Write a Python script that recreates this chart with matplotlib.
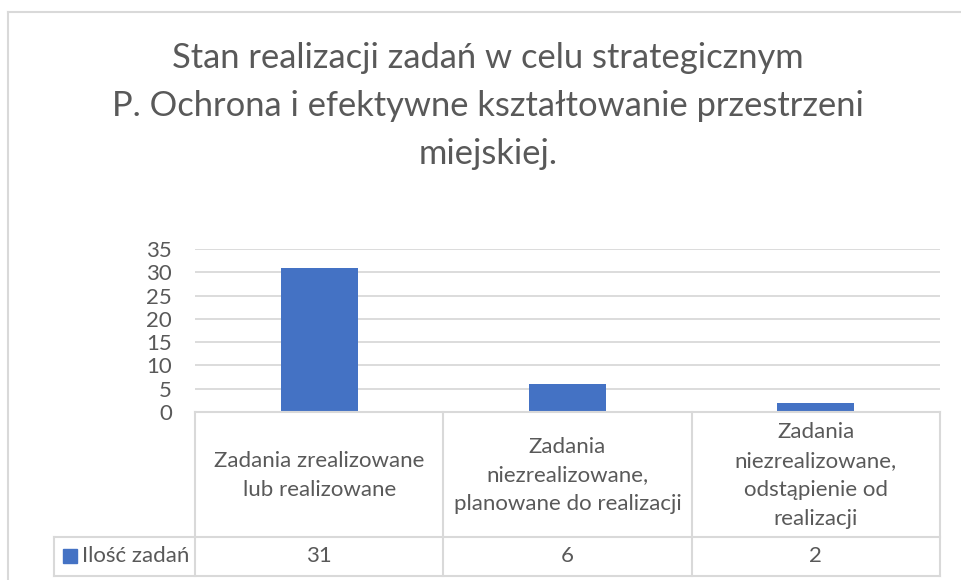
import matplotlib
matplotlib.use("Agg")
import matplotlib.pyplot as plt
from matplotlib.lines import Line2D
from matplotlib.patches import Rectangle

# data
categories = [
    "Zadania zrealizowane\nlub realizowane",
    "Zadania\nniezrealizowane,\nplanowane do realizacji",
    "Zadania\nniezrealizowane,\nodstąpienie od\nrealizacji",
]
values = [31, 6, 2]
series_name = "Ilość zadań"
yticks = [0, 5, 10, 15, 20, 25, 30, 35]
title = ("Stan realizacji zadań w celu strategicznym\n"
         "P. Ochrona i efektywne kształtowanie przestrzeni\n"
         "miejskiej.")

W, H = 962, 580
BLUE = "#4472C4"
GRID = "#D9D9D9"
TXT = "#595959"
plt.rcParams["font.family"] = ["Lato", "DejaVu Sans"]

fig = plt.figure(figsize=(W / 100, H / 100), dpi=100)


def fx(px):
    return px / W


def fy(py):
    return 1 - py / H


# chart border (only top and left visible)
fig.add_artist(Line2D([fx(8), fx(8)], [fy(12), fy(580)], color=GRID, lw=1.5))
fig.add_artist(Line2D([fx(8), fx(962)], [fy(12), fy(12)], color=GRID, lw=1.5))

fig.text(fx(488), fy(106), title, ha="center", va="center", fontsize=24.8,
         color=TXT, linespacing=1.6)

# plot area
x0, x1, ytop, ybot = 195, 940, 249, 412
ax = fig.add_axes([fx(x0), fy(ybot), fx(x1) - fx(x0), fy(ytop) - fy(ybot)])
pos = list(range(len(values)))
ax.bar(pos, values, width=0.31, color=BLUE, zorder=3)
ax.set_xlim(-0.5, len(values) - 0.5)
ax.set_ylim(0, 35)
ax.set_yticks(yticks)
ax.tick_params(axis="y", length=0, pad=16.5, labelsize=16, labelcolor=TXT)
ax.set_xticks([])
ax.grid(axis="y", color=GRID, lw=1.3, zorder=0)
for s in ax.spines.values():
    s.set_visible(False)

# data table
col_w = (x1 - x0) / len(values)
row_top, row_mid, row_bot = 412, 537, 576
leg_left = 54
lc = dict(color=GRID, lw=1.5)
fig.add_artist(Line2D([fx(x0), fx(x1)], [fy(row_top), fy(row_top)], **lc))
fig.add_artist(Line2D([fx(leg_left), fx(x1)], [fy(row_mid), fy(row_mid)], **lc))
fig.add_artist(Line2D([fx(leg_left), fx(x1)], [fy(row_bot), fy(row_bot)], **lc))
fig.add_artist(Line2D([fx(leg_left), fx(leg_left)], [fy(row_mid), fy(row_bot)], **lc))
for i in range(len(values) + 1):
    xx = x0 + i * col_w
    fig.add_artist(Line2D([fx(xx), fx(xx)], [fy(row_top), fy(row_bot)], **lc))

for i, (cat, v) in enumerate(zip(categories, values)):
    cx = x0 + (i + 0.5) * col_w
    fig.text(fx(cx), fy((row_top + row_mid) / 2 + 1), cat, ha="center",
             va="center", fontsize=16, color=TXT, linespacing=1.56)
    fig.text(fx(cx), fy((row_mid + row_bot) / 2), str(v), ha="center",
             va="center", fontsize=16, color=TXT)

fig.add_artist(Rectangle((fx(63), fy(563)), fx(14), fy(549) - fy(563),
                         color=BLUE, transform=fig.transFigure))
fig.text(fx(82), fy((row_mid + row_bot) / 2), series_name, ha="left",
         va="center", fontsize=16, color=TXT)

fig.savefig("out.png", dpi=100)
